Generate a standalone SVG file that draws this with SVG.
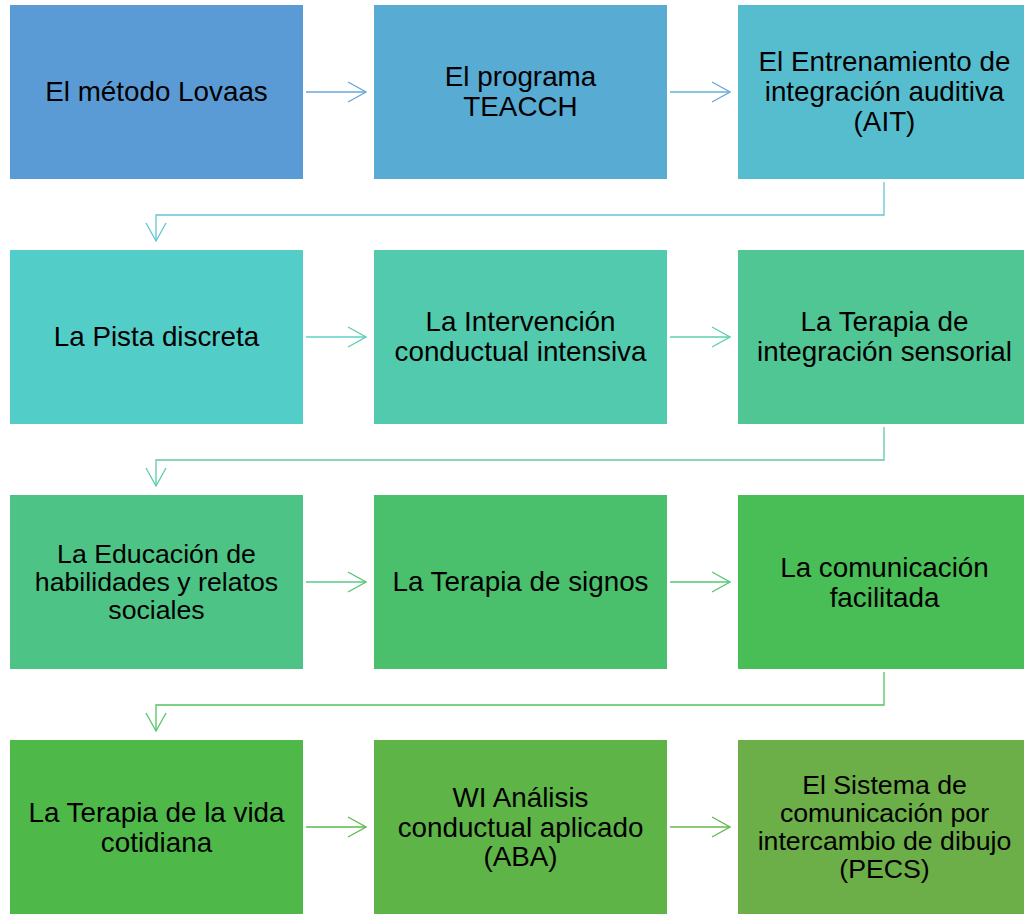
<svg xmlns="http://www.w3.org/2000/svg" width="1024" height="917" viewBox="0 0 1024 917">
<style>
.box{stroke:none}
.t{font-family:"Liberation Sans",Arial,sans-serif;font-size:27.8px;fill:#000;text-anchor:middle}
.s{font-size:26.7px}
.c{fill:none;stroke-width:1.3}
</style>
<defs>
<marker id="a1" viewBox="0 0 20 22" refX="19" refY="11" markerWidth="20" markerHeight="22" markerUnits="userSpaceOnUse" orient="auto"><path d="M1,1 L19,11 L1,21" fill="none" stroke="#6aa6da" stroke-width="1.3"/></marker>
<marker id="a2" viewBox="0 0 20 22" refX="19" refY="11" markerWidth="20" markerHeight="22" markerUnits="userSpaceOnUse" orient="auto"><path d="M1,1 L19,11 L1,21" fill="none" stroke="#66c4d4" stroke-width="1.3"/></marker>
<marker id="a3" viewBox="0 0 20 22" refX="19" refY="11" markerWidth="20" markerHeight="22" markerUnits="userSpaceOnUse" orient="auto"><path d="M1,1 L19,11 L1,21" fill="none" stroke="#5ccfb0" stroke-width="1.3"/></marker>
<marker id="a4" viewBox="0 0 20 22" refX="19" refY="11" markerWidth="20" markerHeight="22" markerUnits="userSpaceOnUse" orient="auto"><path d="M1,1 L19,11 L1,21" fill="none" stroke="#55c673" stroke-width="1.3"/></marker>
<marker id="a5" viewBox="0 0 20 22" refX="19" refY="11" markerWidth="20" markerHeight="22" markerUnits="userSpaceOnUse" orient="auto"><path d="M1,1 L19,11 L1,21" fill="none" stroke="#5fba4f" stroke-width="1.3"/></marker>
</defs>
<g id="connectors">
<path class="c" d="M306,92 H366" stroke="#6aa6da" marker-end="url(#a1)"/>
<path class="c" d="M670,92 H730" stroke="#62b4d6" marker-end="url(#a1)"/>
<path class="c" d="M884,182 V215 H156 V241" stroke="#66c4d4" marker-end="url(#a2)"/>
<path class="c" d="M306,337 H366" stroke="#5fd0c8" marker-end="url(#a3)"/>
<path class="c" d="M670,337 H730" stroke="#5ccfb0" marker-end="url(#a3)"/>
<path class="c" d="M884,427 V460 H156 V486" stroke="#5ccc9c" marker-end="url(#a3)"/>
<path class="c" d="M306,582 H366" stroke="#58c98a" marker-end="url(#a4)"/>
<path class="c" d="M670,582 H730" stroke="#55c673" marker-end="url(#a4)"/>
<path class="c" d="M884,672 V705 H156 V731" stroke="#52c260" marker-end="url(#a4)"/>
<path class="c" d="M306,827 H366" stroke="#5aba4f" marker-end="url(#a5)"/>
<path class="c" d="M670,827 H730" stroke="#68b54e" marker-end="url(#a5)"/>
</g>
<g id="n1"><rect class="box" x="10" y="5" width="293" height="174" fill="#5b9bd5"/><text class="t" x="156.5" y="101">El método Lovaas</text></g>
<g id="n2"><rect class="box" x="374" y="5" width="293" height="174" fill="#58abd3"/><text class="t" x="520.5" y="86">El programa</text><text class="t" x="520.5" y="116">TEACCH</text></g>
<g id="n3"><rect class="box" x="738" y="5" width="293" height="174" fill="#56bdcf"/><text class="t" x="884.5" y="71">El Entrenamiento de</text><text class="t" x="884.5" y="101">integración auditiva</text><text class="t" x="884.5" y="131">(AIT)</text></g>
<g id="n4"><rect class="box" x="10" y="250" width="293" height="174" fill="#53cdc8"/><text class="t" x="156.5" y="346">La Pista discreta</text></g>
<g id="n5"><rect class="box" x="374" y="250" width="293" height="174" fill="#51caad"/><text class="t" x="520.5" y="331">La Intervención</text><text class="t" x="520.5" y="361">conductual intensiva</text></g>
<g id="n6"><rect class="box" x="738" y="250" width="293" height="174" fill="#4fc694"/><text class="t" x="884.5" y="331">La Terapia de</text><text class="t" x="884.5" y="361">integración sensorial</text></g>
<g id="n7"><rect class="box" x="10" y="495" width="293" height="174" fill="#4dc486"/><text class="t s" x="156.5" y="563">La Educación de</text><text class="t s" x="156.5" y="591">habilidades y relatos</text><text class="t s" x="156.5" y="619">sociales</text></g>
<g id="n8"><rect class="box" x="374" y="495" width="293" height="174" fill="#4ac06d"/><text class="t" x="520.5" y="591">La Terapia de signos</text></g>
<g id="n9"><rect class="box" x="738" y="495" width="293" height="174" fill="#49bd56"/><text class="t" x="884.5" y="577">La comunicación</text><text class="t" x="884.5" y="607">facilitada</text></g>
<g id="n10"><rect class="box" x="10" y="740" width="293" height="174" fill="#4eb948"/><text class="t" x="156.5" y="822">La Terapia de la vida</text><text class="t" x="156.5" y="852">cotidiana</text></g>
<g id="n11"><rect class="box" x="374" y="740" width="293" height="174" fill="#5eb447"/><text class="t" x="520.5" y="807">WI Análisis</text><text class="t" x="520.5" y="837">conductual aplicado</text><text class="t" x="520.5" y="866">(ABA)</text></g>
<g id="n12"><rect class="box" x="738" y="740" width="293" height="174" fill="#6cae47"/><text class="t s" x="884.5" y="794">El Sistema de</text><text class="t s" x="884.5" y="822">comunicación por</text><text class="t s" x="884.5" y="850">intercambio de dibujo</text><text class="t s" x="884.5" y="878">(PECS)</text></g>
</svg>
